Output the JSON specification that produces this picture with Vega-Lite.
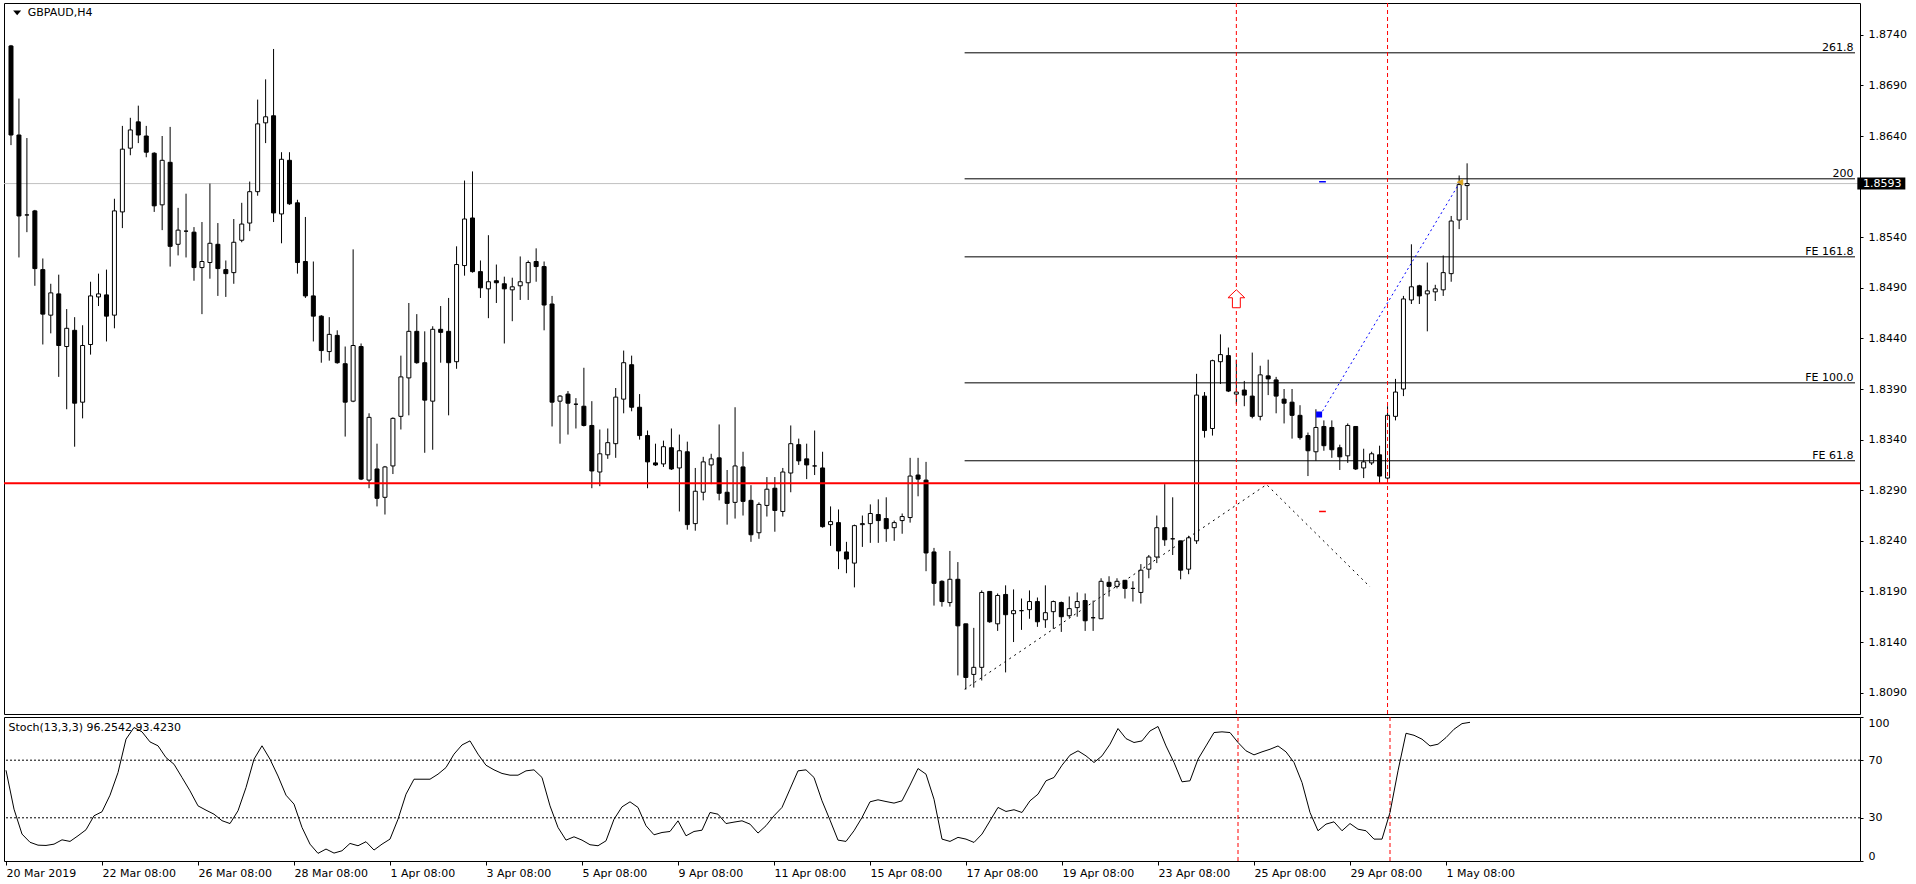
{
  "$schema": "https://vega.github.io/schema/vega-lite/v6.json",
  "background": "white",
  "padding": {"left": 2, "top": 2, "right": 0, "bottom": 0},
  "autosize": {"type": "pad"},
  "spacing": 3,
  "bounds": "flush",
  "config": {
    "view": {"stroke": "black", "strokeWidth": 1},
    "text": {"font": "DejaVu Sans", "fontSize": 11, "color": "black"},
    "axis": {"labelFont": "DejaVu Sans", "labelFontSize": 11, "labelColor": "black", "tickColor": "black", "domain": false, "grid": false, "labelOverlap": false}
  },
  "datasets": {
    "candles": [
      {"i":0,"o":1.8729,"h":1.8730,"l":1.8631,"c":1.8641},
      {"i":1,"o":1.8641,"h":1.8677,"l":1.8520,"c":1.8561},
      {"i":2,"o":1.8562,"h":1.8638,"l":1.8545,"c":1.8562},
      {"i":3,"o":1.8566,"h":1.8567,"l":1.8492,"c":1.8509},
      {"i":4,"o":1.8508,"h":1.8519,"l":1.8434,"c":1.8464},
      {"i":5,"o":1.8463,"h":1.8494,"l":1.8445,"c":1.8485},
      {"i":6,"o":1.8484,"h":1.8503,"l":1.8402,"c":1.8433},
      {"i":7,"o":1.8432,"h":1.8469,"l":1.8370,"c":1.8450},
      {"i":8,"o":1.8448,"h":1.8461,"l":1.8333,"c":1.8376},
      {"i":9,"o":1.8377,"h":1.8453,"l":1.8361,"c":1.8433},
      {"i":10,"o":1.8434,"h":1.8496,"l":1.8424,"c":1.8482},
      {"i":11,"o":1.8481,"h":1.8504,"l":1.8472,"c":1.8484},
      {"i":12,"o":1.8483,"h":1.8508,"l":1.8437,"c":1.8462},
      {"i":13,"o":1.8463,"h":1.8578,"l":1.8450,"c":1.8566},
      {"i":14,"o":1.8565,"h":1.8650,"l":1.8549,"c":1.8627},
      {"i":15,"o":1.8628,"h":1.8658,"l":1.8621,"c":1.8646},
      {"i":16,"o":1.8654,"h":1.8670,"l":1.8633,"c":1.8641},
      {"i":17,"o":1.8640,"h":1.8650,"l":1.8619,"c":1.8624},
      {"i":18,"o":1.8623,"h":1.8624,"l":1.8565,"c":1.8571},
      {"i":19,"o":1.8572,"h":1.8640,"l":1.8547,"c":1.8616},
      {"i":20,"o":1.8614,"h":1.8649,"l":1.8511,"c":1.8531},
      {"i":21,"o":1.8533,"h":1.8569,"l":1.8522,"c":1.8547},
      {"i":22,"o":1.8546,"h":1.8583,"l":1.8520,"c":1.8546},
      {"i":23,"o":1.8545,"h":1.8550,"l":1.8497,"c":1.8510},
      {"i":24,"o":1.8510,"h":1.8555,"l":1.8464,"c":1.8516},
      {"i":25,"o":1.8515,"h":1.8593,"l":1.8499,"c":1.8534},
      {"i":26,"o":1.8533,"h":1.8554,"l":1.8482,"c":1.8509},
      {"i":27,"o":1.8508,"h":1.8517,"l":1.8481,"c":1.8504},
      {"i":28,"o":1.8505,"h":1.8558,"l":1.8494,"c":1.8535},
      {"i":29,"o":1.8537,"h":1.8574,"l":1.8535,"c":1.8553},
      {"i":30,"o":1.8554,"h":1.8595,"l":1.8546,"c":1.8585},
      {"i":31,"o":1.8585,"h":1.8676,"l":1.8581,"c":1.8652},
      {"i":32,"o":1.8653,"h":1.8696,"l":1.8633,"c":1.8659},
      {"i":33,"o":1.8660,"h":1.8726,"l":1.8555,"c":1.8564},
      {"i":34,"o":1.8563,"h":1.8624,"l":1.8534,"c":1.8617},
      {"i":35,"o":1.8616,"h":1.8624,"l":1.8572,"c":1.8573},
      {"i":36,"o":1.8574,"h":1.8577,"l":1.8504,"c":1.8515},
      {"i":37,"o":1.8516,"h":1.8560,"l":1.8480,"c":1.8482},
      {"i":38,"o":1.8482,"h":1.8516,"l":1.8437,"c":1.8462},
      {"i":39,"o":1.8462,"h":1.8463,"l":1.8416,"c":1.8428},
      {"i":40,"o":1.8427,"h":1.8461,"l":1.8418,"c":1.8444},
      {"i":41,"o":1.8443,"h":1.8448,"l":1.8415,"c":1.8416},
      {"i":42,"o":1.8415,"h":1.8432,"l":1.8343,"c":1.8377},
      {"i":43,"o":1.8378,"h":1.8528,"l":1.8377,"c":1.8433},
      {"i":44,"o":1.8432,"h":1.8435,"l":1.8300,"c":1.8301},
      {"i":45,"o":1.8300,"h":1.8366,"l":1.8292,"c":1.8362},
      {"i":46,"o":1.8311,"h":1.8336,"l":1.8274,"c":1.8282},
      {"i":47,"o":1.8283,"h":1.8314,"l":1.8266,"c":1.8313},
      {"i":48,"o":1.8314,"h":1.8362,"l":1.8306,"c":1.8361},
      {"i":49,"o":1.8363,"h":1.8423,"l":1.8350,"c":1.8402},
      {"i":50,"o":1.8401,"h":1.8475,"l":1.8364,"c":1.8447},
      {"i":51,"o":1.8447,"h":1.8464,"l":1.8415,"c":1.8416},
      {"i":52,"o":1.8416,"h":1.8447,"l":1.8327,"c":1.8379},
      {"i":53,"o":1.8378,"h":1.8452,"l":1.8330,"c":1.8449},
      {"i":54,"o":1.8449,"h":1.8472,"l":1.8416,"c":1.8446},
      {"i":55,"o":1.8447,"h":1.8480,"l":1.8364,"c":1.8416},
      {"i":56,"o":1.8417,"h":1.8531,"l":1.8410,"c":1.8513},
      {"i":57,"o":1.8512,"h":1.8596,"l":1.8502,"c":1.8558},
      {"i":58,"o":1.8559,"h":1.8605,"l":1.8505,"c":1.8506},
      {"i":59,"o":1.8506,"h":1.8517,"l":1.8480,"c":1.8490},
      {"i":60,"o":1.8489,"h":1.8542,"l":1.8460,"c":1.8496},
      {"i":61,"o":1.8497,"h":1.8513,"l":1.8475,"c":1.8495},
      {"i":62,"o":1.8494,"h":1.8501,"l":1.8435,"c":1.8489},
      {"i":63,"o":1.8488,"h":1.8500,"l":1.8457,"c":1.8491},
      {"i":64,"o":1.8492,"h":1.8521,"l":1.8478,"c":1.8496},
      {"i":65,"o":1.8495,"h":1.8517,"l":1.8478,"c":1.8515},
      {"i":66,"o":1.8516,"h":1.8529,"l":1.8496,"c":1.8511},
      {"i":67,"o":1.8511,"h":1.8516,"l":1.8448,"c":1.8473},
      {"i":68,"o":1.8474,"h":1.8482,"l":1.8353,"c":1.8377},
      {"i":69,"o":1.8378,"h":1.8384,"l":1.8336,"c":1.8383},
      {"i":70,"o":1.8385,"h":1.8388,"l":1.8345,"c":1.8376},
      {"i":71,"o":1.8375,"h":1.8381,"l":1.8351,"c":1.8375},
      {"i":72,"o":1.8373,"h":1.8411,"l":1.8353,"c":1.8354},
      {"i":73,"o":1.8354,"h":1.8378,"l":1.8292,"c":1.8309},
      {"i":74,"o":1.8308,"h":1.8350,"l":1.8294,"c":1.8326},
      {"i":75,"o":1.8325,"h":1.8351,"l":1.8321,"c":1.8337},
      {"i":76,"o":1.8336,"h":1.8391,"l":1.8322,"c":1.8382},
      {"i":77,"o":1.8380,"h":1.8428,"l":1.8366,"c":1.8416},
      {"i":78,"o":1.8414,"h":1.8423,"l":1.8368,"c":1.8372},
      {"i":79,"o":1.8372,"h":1.8385,"l":1.8340,"c":1.8344},
      {"i":80,"o":1.8344,"h":1.8349,"l":1.8292,"c":1.8318},
      {"i":81,"o":1.8317,"h":1.8336,"l":1.8314,"c":1.8315},
      {"i":82,"o":1.8316,"h":1.8339,"l":1.8313,"c":1.8333},
      {"i":83,"o":1.8332,"h":1.8351,"l":1.8310,"c":1.8311},
      {"i":84,"o":1.8312,"h":1.8345,"l":1.8269,"c":1.8329},
      {"i":85,"o":1.8328,"h":1.8338,"l":1.8251,"c":1.8256},
      {"i":86,"o":1.8257,"h":1.8312,"l":1.8250,"c":1.8289},
      {"i":87,"o":1.8288,"h":1.8323,"l":1.8280,"c":1.8318},
      {"i":88,"o":1.8315,"h":1.8326,"l":1.8296,"c":1.8321},
      {"i":89,"o":1.8322,"h":1.8355,"l":1.8280,"c":1.8287},
      {"i":90,"o":1.8288,"h":1.8310,"l":1.8256,"c":1.8277},
      {"i":91,"o":1.8278,"h":1.8372,"l":1.8262,"c":1.8314},
      {"i":92,"o":1.8313,"h":1.8328,"l":1.8265,"c":1.8279},
      {"i":93,"o":1.8280,"h":1.8295,"l":1.8239,"c":1.8246},
      {"i":94,"o":1.8248,"h":1.8278,"l":1.8242,"c":1.8276},
      {"i":95,"o":1.8275,"h":1.8303,"l":1.8264,"c":1.8291},
      {"i":96,"o":1.8292,"h":1.8303,"l":1.8249,"c":1.8270},
      {"i":97,"o":1.8269,"h":1.8312,"l":1.8264,"c":1.8308},
      {"i":98,"o":1.8307,"h":1.8354,"l":1.8288,"c":1.8336},
      {"i":99,"o":1.8335,"h":1.8341,"l":1.8315,"c":1.8319},
      {"i":100,"o":1.8321,"h":1.8336,"l":1.8301,"c":1.8315},
      {"i":101,"o":1.8314,"h":1.8349,"l":1.8305,"c":1.8314},
      {"i":102,"o":1.8312,"h":1.8328,"l":1.8253,"c":1.8254},
      {"i":103,"o":1.8256,"h":1.8274,"l":1.8235,"c":1.8259},
      {"i":104,"o":1.8258,"h":1.8271,"l":1.8212,"c":1.8230},
      {"i":105,"o":1.8229,"h":1.8239,"l":1.8208,"c":1.8222},
      {"i":106,"o":1.8218,"h":1.8256,"l":1.8194,"c":1.8255},
      {"i":107,"o":1.8256,"h":1.8265,"l":1.8234,"c":1.8257},
      {"i":108,"o":1.8257,"h":1.8276,"l":1.8238,"c":1.8267},
      {"i":109,"o":1.8266,"h":1.8281,"l":1.8238,"c":1.8260},
      {"i":110,"o":1.8262,"h":1.8283,"l":1.8239,"c":1.8252},
      {"i":111,"o":1.8253,"h":1.8260,"l":1.8240,"c":1.8258},
      {"i":112,"o":1.8260,"h":1.8267,"l":1.8247,"c":1.8264},
      {"i":113,"o":1.8263,"h":1.8322,"l":1.8258,"c":1.8304},
      {"i":114,"o":1.8305,"h":1.8322,"l":1.8284,"c":1.8301},
      {"i":115,"o":1.8300,"h":1.8318,"l":1.8210,"c":1.8228},
      {"i":116,"o":1.8229,"h":1.8233,"l":1.8176,"c":1.8198},
      {"i":117,"o":1.8200,"h":1.8201,"l":1.8175,"c":1.8180},
      {"i":118,"o":1.8179,"h":1.8230,"l":1.8175,"c":1.8202},
      {"i":119,"o":1.8202,"h":1.8219,"l":1.8107,"c":1.8156},
      {"i":120,"o":1.8158,"h":1.8158,"l":1.8093,"c":1.8105},
      {"i":121,"o":1.8108,"h":1.8154,"l":1.8095,"c":1.8115},
      {"i":122,"o":1.8115,"h":1.8191,"l":1.8102,"c":1.8189},
      {"i":123,"o":1.8190,"h":1.8190,"l":1.8159,"c":1.8160},
      {"i":124,"o":1.8158,"h":1.8188,"l":1.8151,"c":1.8186},
      {"i":125,"o":1.8187,"h":1.8196,"l":1.8110,"c":1.8167},
      {"i":126,"o":1.8168,"h":1.8192,"l":1.8140,"c":1.8171},
      {"i":127,"o":1.8171,"h":1.8183,"l":1.8152,"c":1.8171},
      {"i":128,"o":1.8172,"h":1.8191,"l":1.8163,"c":1.8180},
      {"i":129,"o":1.8180,"h":1.8184,"l":1.8155,"c":1.8160},
      {"i":130,"o":1.8162,"h":1.8196,"l":1.8154,"c":1.8169},
      {"i":131,"o":1.8170,"h":1.8181,"l":1.8153,"c":1.8180},
      {"i":132,"o":1.8179,"h":1.8180,"l":1.8150,"c":1.8165},
      {"i":133,"o":1.8166,"h":1.8185,"l":1.8164,"c":1.8173},
      {"i":134,"o":1.8174,"h":1.8189,"l":1.8165,"c":1.8180},
      {"i":135,"o":1.8181,"h":1.8188,"l":1.8151,"c":1.8161},
      {"i":136,"o":1.8164,"h":1.8181,"l":1.8151,"c":1.8164},
      {"i":137,"o":1.8163,"h":1.8203,"l":1.8163,"c":1.8200},
      {"i":138,"o":1.8199,"h":1.8205,"l":1.8185,"c":1.8195},
      {"i":139,"o":1.8195,"h":1.8203,"l":1.8193,"c":1.8200},
      {"i":140,"o":1.8201,"h":1.8201,"l":1.8183,"c":1.8193},
      {"i":141,"o":1.8193,"h":1.8200,"l":1.8180,"c":1.8193},
      {"i":142,"o":1.8189,"h":1.8217,"l":1.8178,"c":1.8211},
      {"i":143,"o":1.8212,"h":1.8226,"l":1.8203,"c":1.8224},
      {"i":144,"o":1.8224,"h":1.8265,"l":1.8218,"c":1.8253},
      {"i":145,"o":1.8253,"h":1.8296,"l":1.8235,"c":1.8241},
      {"i":146,"o":1.8242,"h":1.8283,"l":1.8226,"c":1.8242},
      {"i":147,"o":1.8240,"h":1.8240,"l":1.8202,"c":1.8211},
      {"i":148,"o":1.8212,"h":1.8245,"l":1.8207,"c":1.8243},
      {"i":149,"o":1.8240,"h":1.8405,"l":1.8237,"c":1.8384},
      {"i":150,"o":1.8383,"h":1.8387,"l":1.8342,"c":1.8349},
      {"i":151,"o":1.8351,"h":1.8419,"l":1.8344,"c":1.8418},
      {"i":152,"o":1.8417,"h":1.8444,"l":1.8395,"c":1.8424},
      {"i":153,"o":1.8423,"h":1.8431,"l":1.8387,"c":1.8388},
      {"i":154,"o":1.8385,"h":1.8419,"l":1.8375,"c":1.8387},
      {"i":155,"o":1.8389,"h":1.8398,"l":1.8373,"c":1.8384},
      {"i":156,"o":1.8383,"h":1.8426,"l":1.8361,"c":1.8363},
      {"i":157,"o":1.8363,"h":1.8413,"l":1.8359,"c":1.8404},
      {"i":158,"o":1.8403,"h":1.8419,"l":1.8384,"c":1.8400},
      {"i":159,"o":1.8399,"h":1.8402,"l":1.8366,"c":1.8383},
      {"i":160,"o":1.8380,"h":1.8390,"l":1.8356,"c":1.8376},
      {"i":161,"o":1.8377,"h":1.8390,"l":1.8341,"c":1.8364},
      {"i":162,"o":1.8364,"h":1.8374,"l":1.8340,"c":1.8342},
      {"i":163,"o":1.8344,"h":1.8347,"l":1.8304,"c":1.8329},
      {"i":164,"o":1.8328,"h":1.8370,"l":1.8319,"c":1.8352},
      {"i":165,"o":1.8353,"h":1.8359,"l":1.8329,"c":1.8334},
      {"i":166,"o":1.8352,"h":1.8359,"l":1.8322,"c":1.8330},
      {"i":167,"o":1.8332,"h":1.8335,"l":1.8310,"c":1.8323},
      {"i":168,"o":1.8324,"h":1.8356,"l":1.8317,"c":1.8354},
      {"i":169,"o":1.8353,"h":1.8353,"l":1.8310,"c":1.8311},
      {"i":170,"o":1.8312,"h":1.8331,"l":1.8302,"c":1.8318},
      {"i":171,"o":1.8317,"h":1.8328,"l":1.8315,"c":1.8326},
      {"i":172,"o":1.8325,"h":1.8334,"l":1.8297,"c":1.8304},
      {"i":173,"o":1.8302,"h":1.8373,"l":1.8300,"c":1.8364},
      {"i":174,"o":1.8363,"h":1.8400,"l":1.8359,"c":1.8387},
      {"i":175,"o":1.8390,"h":1.8482,"l":1.8383,"c":1.8479},
      {"i":176,"o":1.8478,"h":1.8533,"l":1.8474,"c":1.8491},
      {"i":177,"o":1.8492,"h":1.8493,"l":1.8474,"c":1.8482},
      {"i":178,"o":1.8484,"h":1.8515,"l":1.8447,"c":1.8487},
      {"i":179,"o":1.8486,"h":1.8493,"l":1.8477,"c":1.8489},
      {"i":180,"o":1.8488,"h":1.8522,"l":1.8482,"c":1.8505},
      {"i":181,"o":1.8504,"h":1.8561,"l":1.8496,"c":1.8556},
      {"i":182,"o":1.8557,"h":1.8601,"l":1.8548,"c":1.8592},
      {"i":183,"o":1.8591,"h":1.8613,"l":1.8557,"c":1.8593}
    ],
    "stoch": [
      {"i":0,"k":63},{"i":1,"k":36},{"i":2,"k":18.7},{"i":3,"k":13},{"i":4,"k":11},{"i":5,"k":10.8},{"i":6,"k":11.7},{"i":7,"k":14.7},{"i":8,"k":13.6},{"i":9,"k":17.5},
      {"i":10,"k":21.7},{"i":11,"k":31.4},{"i":12,"k":34.2},{"i":13,"k":45.7},{"i":14,"k":61.4},{"i":15,"k":84.6},{"i":16,"k":92.7},{"i":17,"k":89.7},{"i":18,"k":82.7},{"i":19,"k":80},
      {"i":20,"k":71.8},{"i":21,"k":67.2},{"i":22,"k":58},{"i":23,"k":48.7},{"i":24,"k":38.3},{"i":25,"k":35.3},{"i":26,"k":32.5},{"i":27,"k":28},{"i":28,"k":26},{"i":29,"k":34.9},
      {"i":30,"k":51},{"i":31,"k":70.7},{"i":32,"k":80},{"i":33,"k":70.7},{"i":34,"k":59},{"i":35,"k":45.7},{"i":36,"k":39.5},{"i":37,"k":23.3},{"i":38,"k":11.7},{"i":39,"k":5.3},
      {"i":40,"k":8.3},{"i":41,"k":5.5},{"i":42,"k":7.1},{"i":43,"k":12.2},{"i":44,"k":10.6},{"i":45,"k":13.4},{"i":46,"k":7.6},{"i":47,"k":11.7},{"i":48,"k":15.2},{"i":49,"k":29},
      {"i":50,"k":46.4},{"i":51,"k":56.8},{"i":52,"k":56.8},{"i":53,"k":56.8},{"i":54,"k":60.3},{"i":55,"k":64.9},{"i":56,"k":74.2},{"i":57,"k":80.6},{"i":58,"k":83.4},{"i":59,"k":74.2},
      {"i":60,"k":66.5},{"i":61,"k":63.3},{"i":62,"k":60.8},{"i":63,"k":59.6},{"i":64,"k":59.6},{"i":65,"k":62.6},{"i":66,"k":63.3},{"i":67,"k":58},{"i":68,"k":38.3},{"i":69,"k":23.3},
      {"i":70,"k":14.5},{"i":71,"k":16.8},{"i":72,"k":14.5},{"i":73,"k":11.3},{"i":74,"k":10.6},{"i":75,"k":14},{"i":76,"k":29},{"i":77,"k":37.6},{"i":78,"k":41.1},{"i":79,"k":37.2},
      {"i":80,"k":24.5},{"i":81,"k":18.2},{"i":82,"k":19.8},{"i":83,"k":20.5},{"i":84,"k":27.9},{"i":85,"k":17.5},{"i":86,"k":20.5},{"i":87,"k":21.4},{"i":88,"k":33.7},{"i":89,"k":32.5},
      {"i":90,"k":26},{"i":91,"k":27},{"i":92,"k":27.9},{"i":93,"k":25.6},{"i":94,"k":19.4},{"i":95,"k":24.5},{"i":96,"k":31.4},{"i":97,"k":37.2},{"i":98,"k":49.9},{"i":99,"k":62.6},
      {"i":100,"k":63.3},{"i":101,"k":58},{"i":102,"k":41.8},{"i":103,"k":28.4},{"i":104,"k":14.5},{"i":105,"k":13.6},{"i":106,"k":21},{"i":107,"k":30.2},{"i":108,"k":41.1},{"i":109,"k":42.5},
      {"i":110,"k":41.3},{"i":111,"k":40.2},{"i":112,"k":41.8},{"i":113,"k":52.7},{"i":114,"k":64.2},{"i":115,"k":60.3},{"i":116,"k":42.9},{"i":117,"k":15.2},{"i":118,"k":13.6},{"i":119,"k":16.4},
      {"i":120,"k":15.2},{"i":121,"k":12.9},{"i":122,"k":18.7},{"i":123,"k":27.9},{"i":124,"k":37.2},{"i":125,"k":34.4},{"i":126,"k":35.6},{"i":127,"k":33.7},{"i":128,"k":41.8},{"i":129,"k":46.4},
      {"i":130,"k":55.7},{"i":131,"k":58},{"i":132,"k":66.5},{"i":133,"k":73.5},{"i":134,"k":76.5},{"i":135,"k":73},{"i":136,"k":68.4},{"i":137,"k":73},{"i":138,"k":81.1},{"i":139,"k":92},
      {"i":140,"k":85},{"i":141,"k":82.3},{"i":142,"k":83.4},{"i":143,"k":90.3},{"i":144,"k":93.4},{"i":145,"k":79.9},{"i":146,"k":68.4},{"i":147,"k":55},{"i":148,"k":55.7},{"i":149,"k":70.7},
      {"i":150,"k":79.9},{"i":151,"k":89.2},{"i":152,"k":89.7},{"i":153,"k":89.2},{"i":154,"k":82.3},{"i":155,"k":76.5},{"i":156,"k":73.7},{"i":157,"k":75.8},{"i":158,"k":77.6},{"i":159,"k":79.9},
      {"i":160,"k":75.8},{"i":161,"k":68.4},{"i":162,"k":54.5},{"i":163,"k":33.7},{"i":164,"k":21},{"i":165,"k":25.6},{"i":166,"k":27.2},{"i":167,"k":21},{"i":168,"k":26},{"i":169,"k":22.1},
      {"i":170,"k":21},{"i":171,"k":15.2},{"i":172,"k":15.2},{"i":173,"k":33.7},{"i":174,"k":62.6},{"i":175,"k":88.7},{"i":176,"k":87.3},{"i":177,"k":84.6},{"i":178,"k":79.9},{"i":179,"k":81.1},
      {"i":180,"k":85.7},{"i":181,"k":91.5},{"i":182,"k":95.4},{"i":183,"k":96.3}
    ],
    "fib": [
      {"level":1.87222,"label":"261.8"},
      {"level":1.85977,"label":"200"},
      {"level":1.85206,"label":"FE 161.8"},
      {"level":1.83961,"label":"FE 100.0"},
      {"level":1.83191,"label":"FE 61.8"}
    ],
    "fibbase": [
      {"n":0,"i":119.85,"p":1.80934},
      {"n":1,"i":157.8,"p":1.82956},
      {"n":2,"i":170.8,"p":1.81945}
    ],
    "trade": [
      {"n":0,"i":164.5,"p":1.83638},
      {"n":1,"i":182.1,"p":1.85944}
    ],
    "levels": [
      {"kind":"tp","p":1.85948},
      {"kind":"sl","p":1.8269}
    ],
    "vlines": [{"i":154},{"i":173}],
    "cur": [{"p":1.8593,"label":"1.8593"}],
    "support": [{"p":1.8297}],
    "stochlevels": [{"v":70},{"v":30}]
  },
  "vconcat": [
    {
      "width": 1856,
      "height": 711,
      "layer": [
        {
          "data": {"name": "cur"},
          "mark": {"type": "rule", "color": "#c0c0c0", "strokeWidth": 1},
          "encoding": {
            "y": {"field": "p", "type": "quantitative",
              "scale": {"domain": [1.806889, 1.877143], "nice": false, "zero": false},
              "axis": {"orient": "right", "title": null, "values": [1.809, 1.814, 1.819, 1.824, 1.829, 1.834, 1.839, 1.844, 1.849, 1.854, 1.864, 1.869, 1.874], "format": ".4f", "tickSize": 3, "labelPadding": 5}
            }
          }
        },
        {
          "data": {"name": "candles"},
          "mark": {"type": "rule", "color": "black", "strokeWidth": 1},
          "encoding": {
            "x": {"field": "i", "type": "quantitative", "scale": {"domain": [-0.25, 231.75], "nice": false, "zero": false}, "axis": null},
            "y": {"field": "l", "type": "quantitative"},
            "y2": {"field": "h"}
          }
        },
        {
          "data": {"name": "candles"},
          "mark": {"type": "bar", "orient": "vertical", "width": 4, "stroke": "black", "strokeWidth": 1},
          "encoding": {
            "x": {"field": "i", "type": "quantitative", "axis": null},
            "y": {"field": "o", "type": "quantitative"},
            "y2": {"field": "c"},
            "fill": {"condition": {"test": "datum.c < datum.o", "value": "black"}, "value": "white"}
          }
        },
        {
          "data": {"name": "fib"},
          "mark": {"type": "rule", "color": "black", "strokeWidth": 1},
          "encoding": {
            "x": {"datum": 119.85, "type": "quantitative", "axis": null},
            "x2": {"datum": 231.75},
            "y": {"field": "level", "type": "quantitative"}
          }
        },
        {
          "data": {"name": "fib"},
          "mark": {"type": "text", "align": "right", "baseline": "alphabetic", "dy": -2, "font": "DejaVu Sans", "fontSize": 11, "color": "black"},
          "encoding": {
            "x": {"datum": 231.56, "type": "quantitative", "axis": null},
            "y": {"field": "level", "type": "quantitative"},
            "text": {"field": "label"}
          }
        },
        {
          "data": {"name": "support"},
          "mark": {"type": "rule", "color": "#ff0000", "strokeWidth": 2},
          "encoding": {
            "y": {"field": "p", "type": "quantitative"}
          }
        },
        {
          "data": {"name": "fibbase"},
          "mark": {"type": "line", "color": "black", "strokeWidth": 1, "strokeDash": [2, 4]},
          "encoding": {
            "x": {"field": "i", "type": "quantitative", "axis": null},
            "y": {"field": "p", "type": "quantitative"},
            "order": {"field": "n"}
          }
        },
        {
          "data": {"name": "vlines"},
          "mark": {"type": "rule", "color": "#ff0000", "strokeWidth": 1, "strokeDash": [4, 3]},
          "encoding": {
            "x": {"field": "i", "type": "quantitative", "axis": null}
          }
        },
        {
          "data": {"name": "trade"},
          "mark": {"type": "line", "color": "#0000ff", "strokeWidth": 1, "strokeDash": [2, 3]},
          "encoding": {
            "x": {"field": "i", "type": "quantitative", "axis": null},
            "y": {"field": "p", "type": "quantitative"},
            "order": {"field": "n"}
          }
        },
        {
          "data": {"name": "levels"},
          "mark": {"type": "rule", "strokeWidth": 1.5},
          "encoding": {
            "x": {"datum": 164.4, "type": "quantitative", "axis": null},
            "x2": {"datum": 165.25},
            "y": {"field": "p", "type": "quantitative"},
            "color": {"condition": {"test": "datum.kind == 'tp'", "value": "#0000ff"}, "value": "#ff0000"}
          }
        },
        {
          "data": {"values": [{"i": 164.4, "p": 1.83648}]},
          "mark": {"type": "point", "shape": "M-1,-1L1,-1L1,1L-1,1Z", "size": 16, "filled": true, "fill": "#0000ff", "stroke": "#0000ff", "opacity": 1},
          "encoding": {
            "x": {"field": "i", "type": "quantitative", "axis": null},
            "y": {"field": "p", "type": "quantitative"}
          }
        },
        {
          "data": {"values": [{"i": 182.1, "p": 1.85944}]},
          "mark": {"type": "point", "shape": "M1,-1L-1,0L1,1Z", "size": 36, "filled": true, "fill": "#daa520", "stroke": "#daa520", "strokeWidth": 0.5, "opacity": 1},
          "encoding": {
            "x": {"field": "i", "type": "quantitative", "axis": null},
            "y": {"field": "p", "type": "quantitative"}
          }
        },
        {
          "data": {"values": [{"i": 154, "p": 1.84792}]},
          "mark": {"type": "point", "shape": "M0,-1L0.93,-0.11L0.44,-0.11L0.44,1L-0.44,1L-0.44,-0.11L-0.93,-0.11Z", "size": 324, "filled": true, "fill": "white", "stroke": "#ff0000", "strokeWidth": 1, "opacity": 1},
          "encoding": {
            "x": {"field": "i", "type": "quantitative", "axis": null},
            "y": {"field": "p", "type": "quantitative"}
          }
        },
        {
          "data": {"values": [{"t": "GBPAUD,H4"}]},
          "mark": {"type": "point", "shape": "M-1,-0.6L1,-0.6L0,0.6Z", "size": 64, "filled": true, "fill": "black", "opacity": 1},
          "encoding": {
            "x": {"datum": 0.775, "type": "quantitative", "axis": null},
            "y": {"datum": 1.87616, "type": "quantitative"}
          }
        },
        {
          "data": {"values": [{"t": "GBPAUD,H4"}]},
          "mark": {"type": "text", "align": "left", "baseline": "middle", "font": "DejaVu Sans", "fontSize": 11, "color": "black"},
          "encoding": {
            "x": {"datum": 2.1, "type": "quantitative", "axis": null},
            "y": {"datum": 1.87616, "type": "quantitative"},
            "text": {"field": "t"}
          }
        },
        {
          "data": {"name": "cur"},
          "mark": {"type": "point", "shape": "M-1,-0.25L1,-0.25L1,0.25L-1,0.25Z", "size": 2304, "filled": true, "fill": "black", "opacity": 1},
          "encoding": {
            "x": {"datum": 235.06, "type": "quantitative", "axis": null},
            "y": {"field": "p", "type": "quantitative"}
          }
        },
        {
          "data": {"name": "cur"},
          "mark": {"type": "text", "align": "left", "baseline": "middle", "font": "DejaVu Sans", "fontSize": 11, "color": "white"},
          "encoding": {
            "x": {"datum": 232.75, "type": "quantitative", "axis": null},
            "y": {"field": "p", "type": "quantitative"},
            "text": {"field": "label"}
          }
        }
      ]
    },
    {
      "width": 1856,
      "height": 144,
      "layer": [
        {
          "data": {"name": "stochlevels"},
          "mark": {"type": "rule", "color": "black", "strokeWidth": 1, "strokeDash": [2, 2]},
          "encoding": {
            "y": {"field": "v", "type": "quantitative",
              "scale": {"domain": [0, 100], "nice": false, "zero": false},
              "axis": {"orient": "right", "title": null, "values": [0, 30, 70, 100], "tickSize": 3, "labelPadding": 5, "labelFlush": true}
            }
          }
        },
        {
          "data": {"name": "vlines"},
          "mark": {"type": "rule", "color": "#ff0000", "strokeWidth": 1, "strokeDash": [4, 3]},
          "encoding": {
            "x": {"field": "i", "type": "quantitative",
              "scale": {"domain": [-0.25, 231.75], "nice": false, "zero": false},
              "axis": {"orient": "bottom", "title": null, "values": [0, 12, 24, 36, 48, 60, 72, 84, 96, 108, 120, 132, 144, 156, 168, 180],
                "labelExpr": "['20 Mar 2019','22 Mar 08:00','26 Mar 08:00','28 Mar 08:00','1 Apr 08:00','3 Apr 08:00','5 Apr 08:00','9 Apr 08:00','11 Apr 08:00','15 Apr 08:00','17 Apr 08:00','19 Apr 08:00','23 Apr 08:00','25 Apr 08:00','29 Apr 08:00','1 May 08:00'][round(datum.value / 12)]",
                "labelAlign": "left", "labelFlush": false, "tickSize": 4, "labelPadding": 2}
            }
          }
        },
        {
          "data": {"name": "stoch"},
          "mark": {"type": "line", "color": "black", "strokeWidth": 1},
          "encoding": {
            "x": {"field": "i", "type": "quantitative"},
            "y": {"field": "k", "type": "quantitative"}
          }
        },
        {
          "data": {"values": [{"t": "Stoch(13,3,3) 96.2542 93.4230"}]},
          "mark": {"type": "text", "align": "left", "baseline": "middle", "font": "DejaVu Sans", "fontSize": 11, "color": "black"},
          "encoding": {
            "x": {"datum": 0.3, "type": "quantitative"},
            "y": {"datum": 92.5, "type": "quantitative"},
            "text": {"field": "t"}
          }
        }
      ]
    }
  ]
}
